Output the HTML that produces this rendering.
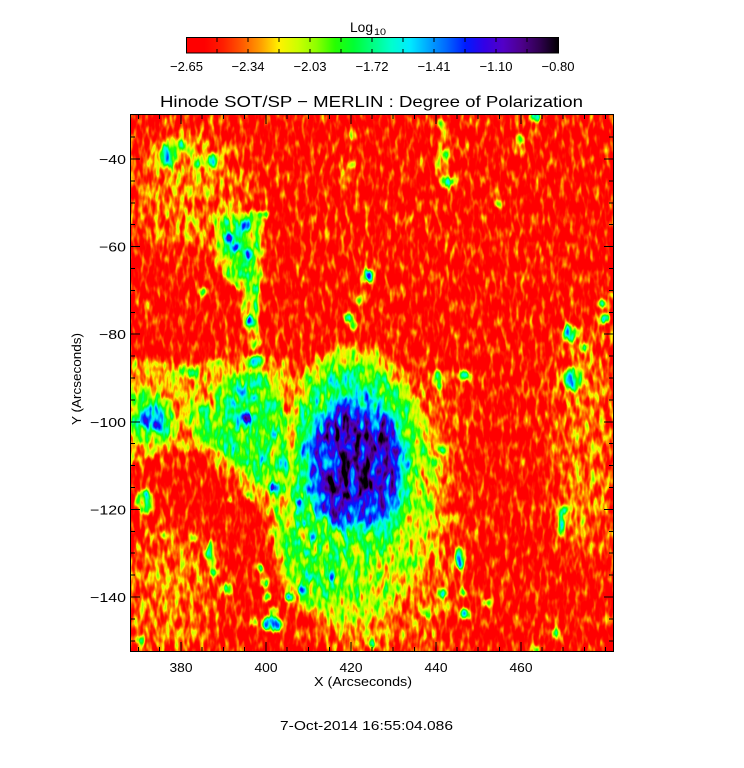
<!DOCTYPE html>
<html><head><meta charset="utf-8"><style>
html,body{margin:0;padding:0;background:#fff;}
svg{display:block;}
.y{fill:#474747}.yl{fill:#545454}.g{fill:#737373}.gy{fill:#616161}.c{fill:#999999}.b{fill:#b8b8b8}.o{fill:#262626}.lo{fill:#2e2e2e}
text{font-family:"Liberation Sans",sans-serif;fill:#000;}
</style></head><body>
<svg width="744" height="768" viewBox="0 0 744 768" xmlns="http://www.w3.org/2000/svg">
<defs>
<linearGradient id="cb" x1="0" x2="1" y1="0" y2="0">
<stop offset="0" stop-color="#ff0000"/><stop offset="0.05" stop-color="#ff0000"/><stop offset="0.10" stop-color="#ff1f00"/><stop offset="0.15" stop-color="#ff5900"/><stop offset="0.20" stop-color="#ff9e00"/><stop offset="0.25" stop-color="#fff200"/><stop offset="0.30" stop-color="#ccff00"/><stop offset="0.35" stop-color="#8cff00"/><stop offset="0.40" stop-color="#26ff00"/><stop offset="0.45" stop-color="#00ff33"/><stop offset="0.50" stop-color="#00ff80"/><stop offset="0.55" stop-color="#00ffcc"/><stop offset="0.60" stop-color="#00ebff"/><stop offset="0.65" stop-color="#00a6ff"/><stop offset="0.70" stop-color="#0066ff"/><stop offset="0.75" stop-color="#001aff"/><stop offset="0.80" stop-color="#3300e6"/><stop offset="0.85" stop-color="#5200c7"/><stop offset="0.90" stop-color="#4d008c"/><stop offset="0.95" stop-color="#2e004d"/><stop offset="1" stop-color="#000000"/>
</linearGradient>
<filter id="cm" filterUnits="userSpaceOnUse" x="0" y="0" width="484" height="538" color-interpolation-filters="sRGB">
<feGaussianBlur in="SourceGraphic" stdDeviation="1.6" result="s"/>
<feTurbulence type="fractalNoise" baseFrequency="0.2 0.07" numOctaves="2" seed="7" result="t"/>
<feColorMatrix in="t" type="matrix" values="1 0 0 0 0  1 0 0 0 0  1 0 0 0 0  0 0 0 0 1" result="n"/>
<feTurbulence type="fractalNoise" baseFrequency="0.1 0.05" numOctaves="2" seed="3" result="t2"/>
<feColorMatrix in="t2" type="matrix" values="1 0 0 0 0  1 0 0 0 0  1 0 0 0 0  0 0 0 0 1" result="n2"/>
<feComposite in="s" in2="n2" operator="arithmetic" k1="0.8" k2="0.6" k3="0" k4="0" result="m"/>
<feComposite in="m" in2="n" operator="arithmetic" k1="0" k2="1" k3="0.55" k4="-0.245" result="v"/>
<feComponentTransfer in="v">
<feFuncR type="table" tableValues="1 1 1 1 1 1 0.8 0.55 0.15 0 0 0 0 0 0 0 0.2 0.32 0.3 0.18 0"/>
<feFuncG type="table" tableValues="0 0 0.12 0.35 0.62 0.95 1 1 1 1 1 1 0.92 0.65 0.4 0.1 0 0 0 0 0"/>
<feFuncB type="table" tableValues="0 0 0 0 0 0 0 0 0 0.2 0.5 0.8 1 1 1 1 0.9 0.78 0.55 0.3 0"/>
</feComponentTransfer>
</filter>
<filter id="b5" x="-50%" y="-50%" width="200%" height="200%" color-interpolation-filters="sRGB"><feGaussianBlur stdDeviation="5"/></filter>
<filter id="b2" x="-50%" y="-50%" width="200%" height="200%" color-interpolation-filters="sRGB"><feGaussianBlur stdDeviation="1.5"/></filter>
<filter id="b15" x="-50%" y="-50%" width="200%" height="200%" color-interpolation-filters="sRGB"><feGaussianBlur stdDeviation="15"/></filter>
<clipPath id="pc"><rect x="0" y="0" width="484" height="538"/></clipPath>
</defs>
<rect width="744" height="768" fill="#fff"/>

<!-- heatmap -->
<g transform="translate(130,114)" clip-path="url(#pc)">
<g filter="url(#cm)">
<rect x="0" y="0" width="484" height="538" fill="#0a0a0a"/>
<g filter="url(#b15)">
<ellipse class="o" cx="40" cy="480" rx="45" ry="60"/>
<ellipse class="o" cx="300" cy="400" rx="25" ry="150"/>
<ellipse class="o" cx="455" cy="330" rx="30" ry="120"/>
<ellipse class="o" cx="60" cy="80" rx="60" ry="60"/>
<ellipse class="o" cx="230" cy="515" rx="50" ry="30"/>
</g>
<!-- sunspot -->
<g filter="url(#b5)">
<ellipse class="y" cx="222" cy="372" rx="85" ry="140"/>
<ellipse fill="#707070" cx="222" cy="350" rx="62" ry="98"/>
<path fill="#5c5c5c" d="M152,405 L250,400 L238,465 L205,495 L165,490 L148,450 Z"/>
<ellipse fill="#949494" cx="226" cy="348" rx="50" ry="70"/>
<path class="b" d="M205,290 L225,285 L250,300 L268,325 L271,365 L262,395 L235,405 L200,410 L185,395 L182,350 L190,315 Z"/>
<path fill="#d1d1d1" d="M200,318 L225,308 L250,315 L262,340 L262,375 L250,392 L215,398 L195,398 L192,360 Z"/>
<ellipse fill="#d9d9d9" cx="228" cy="345" rx="18" ry="22"/>
</g>
<!-- patches -->
<g filter="url(#b2)">
<ellipse class="lo" cx="55" cy="42" rx="35" ry="20"/>
<ellipse class="g" cx="38" cy="42" rx="8" ry="11"/>
<circle class="b" cx="38" cy="45" r="4"/>
<circle class="g" cx="50" cy="30" r="5"/>
<circle class="g" cx="60" cy="36" r="3"/>
<circle class="g" cx="68" cy="50" r="4"/>
<ellipse class="g" cx="82" cy="46" rx="6" ry="7"/>
<path class="y" d="M84,100 L132,96 L134,140 L130,175 L128,235 L118,235 L112,180 L96,165 L86,140 Z"/>
<ellipse class="gy" cx="107" cy="133" rx="16" ry="30"/>
<circle class="c" cx="96" cy="108" r="4"/>
<circle class="b" cx="99" cy="124" r="5"/>
<circle class="b" cx="107" cy="133" r="4"/>
<circle class="b" cx="116" cy="112" r="5"/>
<circle class="b" cx="118" cy="140" r="5"/>
<circle class="c" cx="114" cy="161" r="4"/>
<circle class="g" cx="125" cy="175" r="4"/>
<circle class="g" cx="124" cy="190" r="4"/>
<circle class="c" cx="120" cy="207" r="5"/>
<circle class="g" cx="127" cy="229" r="4"/>
<ellipse class="g" cx="132" cy="100" rx="7" ry="2.5"/>
<circle class="g" cx="74" cy="178" r="4"/>
<circle class="g" cx="238" cy="162" r="7"/>
<circle class="b" cx="238" cy="162" r="4"/>
<circle class="g" cx="230" cy="187" r="5"/>
<circle class="c" cx="219" cy="204" r="5"/>
<circle class="g" cx="224" cy="212" r="4"/>
<circle class="g" cx="222" cy="50" r="5"/>
<circle class="yl" cx="222" cy="22" r="4"/>
<ellipse class="lo" cx="214" cy="65" rx="4" ry="12"/>
<ellipse class="lo" cx="312" cy="40" rx="6" ry="30"/>
<circle class="g" cx="312" cy="10" r="4"/>
<circle class="g" cx="315" cy="40" r="5"/>
<circle class="g" cx="318" cy="68" r="6"/>
<circle class="b" cx="319" cy="68" r="3"/>
<circle class="g" cx="390" cy="25" r="5"/>
<circle class="c" cx="406" cy="3" r="5"/>
<circle class="g" cx="368" cy="90" r="4"/>
<ellipse class="g" cx="440" cy="219" rx="7" ry="10"/>
<circle class="c" cx="438" cy="219" r="4"/>
<circle class="g" cx="472" cy="190" r="4"/>
<circle class="c" cx="475" cy="205" r="5"/>
<circle class="g" cx="481" cy="180" r="3"/>
<circle class="g" cx="452" cy="234" r="4"/>
<ellipse class="g" cx="443" cy="265" rx="9" ry="13"/>
<ellipse class="c" cx="443" cy="267" rx="5" ry="8"/>
<ellipse class="c" cx="333" cy="262" rx="6" ry="5"/>
<ellipse class="g" cx="309" cy="266" rx="4" ry="10"/>
<circle class="c" cx="310" cy="336" r="4"/>
<circle class="g" cx="305" cy="349" r="4"/>
<ellipse class="g" cx="431" cy="408" rx="4" ry="15"/>
<circle class="c" cx="434" cy="396" r="4"/>
<circle class="g" cx="452" cy="408" r="3"/>
<ellipse class="c" cx="330" cy="444" rx="4" ry="12"/>
<circle class="c" cx="312" cy="479" r="5"/>
<circle class="g" cx="333" cy="479" r="3"/>
<circle class="g" cx="358" cy="489" r="4"/>
<circle class="c" cx="335" cy="500" r="5"/>
<circle class="g" cx="298" cy="500" r="4"/>
<circle class="g" cx="425" cy="519" r="4"/>
<circle class="g" cx="407" cy="535" r="4"/>
<!-- left middle -->
<path class="lo" d="M0,245 L50,250 L90,245 L135,240 L160,250 L165,300 L160,390 L135,400 L112,380 L78,340 L40,335 L20,345 L0,350 Z"/>
<ellipse class="g" cx="57" cy="259" rx="12" ry="5"/>
<circle class="g" cx="127" cy="248" r="7"/>
<circle class="b" cx="127" cy="246" r="4"/>
<path class="gy" d="M0,280 L25,278 L42,290 L45,315 L35,330 L15,328 L0,330 Z"/>
<ellipse class="c" cx="22" cy="303" rx="12" ry="12"/>
<circle class="b" cx="28" cy="313" r="5"/>
<path class="gy" d="M88,262 L130,258 L150,280 L158,330 L160,375 L148,385 L128,368 L100,345 L75,330 L58,310 L62,295 L85,290 Z"/>
<path class="g" d="M95,265 L130,268 L132,310 L112,318 L96,300 Z"/>
<circle class="b" cx="110" cy="276" r="5"/>
<circle class="b" cx="106" cy="293" r="4"/>
<circle class="b" cx="118" cy="303" r="5"/>
<circle class="b" cx="125" cy="285" r="3"/>
<circle class="b" cx="117" cy="349" r="3"/>
<circle class="b" cx="145" cy="373" r="5"/>
<circle class="c" cx="132" cy="345" r="4"/>
<circle class="c" cx="80" cy="318" r="3"/>
<circle class="c" cx="142" cy="320" r="3"/>
<ellipse class="g" cx="15" cy="388" rx="8" ry="12"/>
<circle class="g" cx="33" cy="421" r="4"/>
<circle class="g" cx="62" cy="424" r="4"/>
<ellipse class="g" cx="80" cy="440" rx="4" ry="14"/>
<circle class="c" cx="80" cy="440" r="2.5"/>
<circle class="g" cx="85" cy="458" r="4"/>
<circle class="g" cx="97" cy="473" r="4"/>
<circle class="c" cx="100" cy="478" r="3"/>
<circle class="g" cx="117" cy="381" r="3"/>
<circle class="g" cx="100" cy="386" r="3"/>
<circle class="g" cx="130" cy="454" r="4"/>
<circle class="g" cx="135" cy="469" r="4"/>
<circle class="g" cx="137" cy="483" r="4"/>
<circle class="g" cx="143" cy="496" r="4"/>
<ellipse class="g" cx="143" cy="510" rx="12" ry="8"/>
<circle class="b" cx="147" cy="512" r="4"/>
<circle class="c" cx="135" cy="513" r="3"/>
<circle class="g" cx="123" cy="508" r="3"/>
<circle class="g" cx="10" cy="526" r="4"/>
<circle class="g" cx="242" cy="530" r="4"/>
<!-- filaments -->
<circle class="c" cx="167" cy="399" r="3"/>
<circle class="b" cx="173" cy="409" r="4"/>
<circle class="c" cx="168" cy="429" r="3"/>
<circle class="c" cx="177" cy="439" r="3"/>
<circle class="b" cx="182" cy="463" r="4"/>
<circle class="b" cx="200" cy="463" r="4"/>
<circle class="b" cx="160" cy="483" r="4"/>
<circle class="c" cx="170" cy="476" r="3"/>
<circle class="c" cx="185" cy="423" r="3"/>
<circle class="c" cx="200" cy="443" r="3"/>
<circle class="c" cx="213" cy="436" r="3"/>
<circle class="c" cx="208" cy="409" r="3"/>
<circle class="g" cx="220" cy="429" r="3"/>
<circle class="b" cx="170" cy="388" r="3"/>
<circle class="c" cx="177" cy="376" r="3"/>
</g>
</g>
</g>

<!-- plot frame and ticks -->
<g stroke="#000" stroke-width="1" fill="none" shape-rendering="crispEdges">
<rect x="130.5" y="114.5" width="483" height="537"/>
<path d="M181,652V642M266,652V642M351,652V642M436,652V642M521,652V642
M181,114V124M266,114V124M351,114V124M436,114V124M521,114V124
M138.5,652V647M159.7,652V647M202.2,652V647M223.4,652V647M244.6,652V647M287.1,652V647M308.3,652V647M329.5,652V647M372,652V647M393.2,652V647M414.5,652V647M456.9,652V647M478.1,652V647M499.4,652V647M541.8,652V647M563.1,652V647M584.3,652V647M605.5,652V647
M138.5,114V119M159.7,114V119M202.2,114V119M223.4,114V119M244.6,114V119M287.1,114V119M308.3,114V119M329.5,114V119M372,114V119M393.2,114V119M414.5,114V119M456.9,114V119M478.1,114V119M499.4,114V119M541.8,114V119M563.1,114V119M584.3,114V119M605.5,114V119
M130,159H140M130,246.6H140M130,334.2H140M130,421.8H140M130,509.4H140M130,597H140
M614,159H604M614,246.6H604M614,334.2H604M614,421.8H604M614,509.4H604M614,597H604
M130,137.1H135M130,180.9H135M130,202.8H135M130,224.7H135M130,268.5H135M130,290.4H135M130,312.3H135M130,356.1H135M130,378H135M130,399.9H135M130,443.7H135M130,465.6H135M130,487.5H135M130,531.3H135M130,553.2H135M130,575.1H135M130,618.9H135M130,640.8H135
M614,137.1H609M614,180.9H609M614,202.8H609M614,224.7H609M614,268.5H609M614,290.4H609M614,312.3H609M614,356.1H609M614,378H609M614,399.9H609M614,443.7H609M614,465.6H609M614,487.5H609M614,531.3H609M614,553.2H609M614,575.1H609M614,618.9H609M614,640.8H609"/>
</g>

<!-- colorbar -->
<rect x="186" y="37.5" width="373" height="15.5" fill="url(#cb)"/>
<g stroke="#000" stroke-width="1" fill="none" shape-rendering="crispEdges">
<rect x="186.5" y="37.5" width="372" height="15.5"/>
<path d="M217,38V42M248,38V42M279,38V42M310,38V42M341,38V42M372,38V42M403,38V42M434,38V42M465,38V42M496,38V42M527,38V42
M217,53V49M248,53V49M279,53V49M310,53V49M341,53V49M372,53V49M403,53V49M434,53V49M465,53V49M496,53V49M527,53V49"/>
</g>
<text x="350" y="32" font-size="14" textLength="23" lengthAdjust="spacingAndGlyphs">Log</text>
<text x="374" y="35" font-size="9" textLength="12" lengthAdjust="spacingAndGlyphs">10</text>
<g font-size="13" text-anchor="middle">
<text x="186.5" y="71" textLength="33" lengthAdjust="spacingAndGlyphs">−2.65</text>
<text x="248" y="71" textLength="33" lengthAdjust="spacingAndGlyphs">−2.34</text>
<text x="310" y="71" textLength="33" lengthAdjust="spacingAndGlyphs">−2.03</text>
<text x="372" y="71" textLength="33" lengthAdjust="spacingAndGlyphs">−1.72</text>
<text x="434" y="71" textLength="33" lengthAdjust="spacingAndGlyphs">−1.41</text>
<text x="496" y="71" textLength="33" lengthAdjust="spacingAndGlyphs">−1.10</text>
<text x="558" y="71" textLength="33" lengthAdjust="spacingAndGlyphs">−0.80</text>
</g>

<!-- title -->
<text x="160" y="107" font-size="16" textLength="423" lengthAdjust="spacingAndGlyphs">Hinode SOT/SP − MERLIN : Degree of Polarization</text>

<!-- x labels -->
<g font-size="13" text-anchor="middle">
<text x="181" y="672" textLength="23" lengthAdjust="spacingAndGlyphs">380</text>
<text x="266" y="672" textLength="23" lengthAdjust="spacingAndGlyphs">400</text>
<text x="351" y="672" textLength="23" lengthAdjust="spacingAndGlyphs">420</text>
<text x="436" y="672" textLength="23" lengthAdjust="spacingAndGlyphs">440</text>
<text x="521" y="672" textLength="23" lengthAdjust="spacingAndGlyphs">460</text>
<text x="363" y="686" textLength="98" lengthAdjust="spacingAndGlyphs">X (Arcseconds)</text>
<text x="366.5" y="730" textLength="173" lengthAdjust="spacingAndGlyphs">7-Oct-2014 16:55:04.086</text>
</g>
<!-- y labels -->
<g font-size="13" text-anchor="end">
<text x="126" y="164" textLength="27" lengthAdjust="spacingAndGlyphs">−40</text>
<text x="126" y="251.6" textLength="27" lengthAdjust="spacingAndGlyphs">−60</text>
<text x="126" y="339.2" textLength="27" lengthAdjust="spacingAndGlyphs">−80</text>
<text x="126" y="426.8" textLength="36" lengthAdjust="spacingAndGlyphs">−100</text>
<text x="126" y="514.4" textLength="36" lengthAdjust="spacingAndGlyphs">−120</text>
<text x="126" y="602" textLength="36" lengthAdjust="spacingAndGlyphs">−140</text>
</g>
<text transform="translate(81,379) rotate(-90)" x="0" y="0" font-size="13" text-anchor="middle" textLength="92" lengthAdjust="spacingAndGlyphs">Y (Arcseconds)</text>
</svg>
</body></html>
